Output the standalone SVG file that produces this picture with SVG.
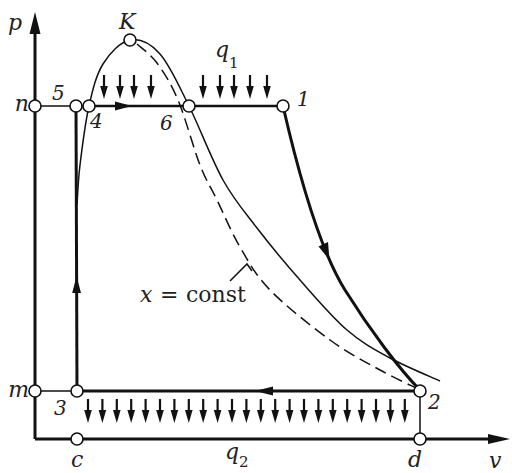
<svg xmlns="http://www.w3.org/2000/svg" xmlns:xlink="http://www.w3.org/1999/xlink" width="512" height="473" viewBox="0 0 512 473">
<style>
.thick{fill:none;stroke:#111;stroke-width:3;stroke-linecap:butt}
.mid{fill:none;stroke:#111;stroke-width:2.4}
.thin{fill:none;stroke:#111;stroke-width:1.5}
.dash{fill:none;stroke:#111;stroke-width:1.5;stroke-dasharray:12 6}
.pt{fill:#fff;stroke:#111;stroke-width:1.6}
.head{fill:#111;stroke:none}
text{font-family:'DejaVu Serif',serif;fill:#222}
.lbl{font-style:italic;font-size:22px}
.num{font-style:italic;font-size:20px}
.sub{font-size:15px}
.rom{font-size:22px}
</style>
<defs>
<g id="da"><line x1="0" y1="0" x2="0" y2="14" stroke="#111" stroke-width="2.2"/><path d="M-3.8,11 L3.8,11 L0,24 Z" fill="#111"/></g>
</defs>
<rect width="512" height="473" fill="#fff"/>

<g id="axes">
<line class="thick" x1="35" y1="439" x2="35" y2="28"/>
<path class="head" d="M35,12 L40.5,34 L29.5,34 Z"/>
<line class="thick" x1="35" y1="439" x2="494" y2="439"/>
<path class="head" d="M510,439 L488,434 L488,444 Z"/>
<text class="lbl" x="8" y="30">p</text>
<text class="lbl" x="489" y="468">v</text>
</g>

<g id="connectors">
<path class="thin" d="M77,205 C77.5,198.3 78,181.5 80,165 C82,148.5 85.2,122.8 89,106 C92.8,89.2 96.2,75 103,64 C109.8,53 120.5,41.7 130,40 C139.5,38.3 150.2,43 160,54 C169.8,65 178.5,85 189,106 C199.5,127 211.7,159.7 223,180 C234.3,200.3 244.2,211.3 257,228 C269.8,244.7 285,263 300,280 C315,297 332,317 347,330 C362,343 374.5,349.5 390,358 C405.5,366.5 431.7,377.2 440,381"/>
<path class="dash" d="M137,44 C140.3,47.2 150.2,53.7 157,63 C163.8,72.3 170.8,83 178,100 C185.2,117 193.5,148.3 200,165 C206.5,181.7 210.3,186.3 217,200 C223.7,213.7 231.2,232 240,247 C248.8,262 255,274.5 270,290 C285,305.5 311.7,326.7 330,340 C348.3,353.3 365.3,361.8 380,370 C394.7,378.2 411.7,385.8 418,389"/>
<polyline class="thin" points="230,281 247,264 252,271" stroke-width="1.2"/>
<line class="thin" x1="35" y1="106" x2="76" y2="106"/>
<line class="thin" x1="35" y1="391" x2="77" y2="391"/>
<line class="thin" x1="420" y1="391" x2="420" y2="439"/>
<line class="thick" x1="77" y1="391" x2="76" y2="106"/>
<path class="head" d="M76.6,276 L81,293 L72.2,293 Z"/>
<line class="mid" x1="76" y1="106" x2="283" y2="106"/>
<path class="head" d="M132,106 L115,101.5 L115,110.5 Z"/>
<path class="thick" d="M283,106 C300,180 320,250 345,290 C370,330 400,370 420,390"/>
<path class="head" d="M329.5,260 L328,242 L318.5,246.5 Z"/>
<line class="thick" x1="420" y1="391" x2="77" y2="391"/>
<path class="head" d="M255,391 L273,386.5 L273,395.5 Z"/>
</g>

<g id="heat-q1">
<use xlink:href="#da" x="104" y="75"/>
<use xlink:href="#da" x="120" y="75"/>
<use xlink:href="#da" x="134" y="75"/>
<use xlink:href="#da" x="151" y="75"/>
<use xlink:href="#da" x="203" y="75"/>
<use xlink:href="#da" x="220" y="75"/>
<use xlink:href="#da" x="234" y="75"/>
<use xlink:href="#da" x="250" y="75"/>
<use xlink:href="#da" x="267" y="75"/>
<text class="lbl" x="215" y="57">q</text>
<text class="sub" x="229" y="68">1</text>
</g>

<g id="heat-q2">
<use xlink:href="#da" x="88" y="399"/>
<use xlink:href="#da" x="102.4" y="399"/>
<use xlink:href="#da" x="116.8" y="399"/>
<use xlink:href="#da" x="131.2" y="399"/>
<use xlink:href="#da" x="145.6" y="399"/>
<use xlink:href="#da" x="160" y="399"/>
<use xlink:href="#da" x="174.4" y="399"/>
<use xlink:href="#da" x="188.8" y="399"/>
<use xlink:href="#da" x="203.2" y="399"/>
<use xlink:href="#da" x="217.6" y="399"/>
<use xlink:href="#da" x="232" y="399"/>
<use xlink:href="#da" x="246.4" y="399"/>
<use xlink:href="#da" x="260.8" y="399"/>
<use xlink:href="#da" x="275.2" y="399"/>
<use xlink:href="#da" x="289.6" y="399"/>
<use xlink:href="#da" x="304" y="399"/>
<use xlink:href="#da" x="318.4" y="399"/>
<use xlink:href="#da" x="332.8" y="399"/>
<use xlink:href="#da" x="347.2" y="399"/>
<use xlink:href="#da" x="361.6" y="399"/>
<use xlink:href="#da" x="376" y="399"/>
<use xlink:href="#da" x="390.4" y="399"/>
<use xlink:href="#da" x="404.8" y="399"/>
<text class="lbl" x="225" y="459">q</text>
<text class="sub" x="239" y="467">2</text>
</g>

<g id="label-xconst">
<text x="140" y="302"><tspan class="lbl">x</tspan><tspan class="rom" x="160">=</tspan><tspan class="rom" x="186">const</tspan></text>
</g>

<g id="node-n"><circle class="pt" cx="35" cy="106" r="6"/><text class="lbl" x="29" y="111" text-anchor="end">n</text></g>
<g id="node-m"><circle class="pt" cx="35" cy="391" r="6"/><text class="lbl" x="29" y="397" text-anchor="end">m</text></g>
<g id="node-K"><circle class="pt" cx="130" cy="40" r="6"/><text class="lbl" x="119" y="29">K</text></g>
<g id="node-5"><circle class="pt" cx="76" cy="106" r="6"/><text class="num" x="52" y="100">5</text></g>
<g id="node-4"><circle class="pt" cx="89" cy="106" r="6"/><text class="num" x="90" y="128">4</text></g>
<g id="node-6"><circle class="pt" cx="189" cy="106" r="6"/><text class="num" x="160" y="130">6</text></g>
<g id="node-1"><circle class="pt" cx="283" cy="106" r="6"/><text class="num" x="297" y="106">1</text></g>
<g id="node-3"><circle class="pt" cx="77" cy="391" r="6"/><text class="num" x="54" y="415">3</text></g>
<g id="node-2"><circle class="pt" cx="420" cy="391" r="6"/><text class="num" x="428" y="409">2</text></g>
<g id="node-c"><circle class="pt" cx="77" cy="439" r="6"/><text class="lbl" x="71" y="467">c</text></g>
<g id="node-d"><circle class="pt" cx="420" cy="439" r="6"/><text class="lbl" x="408" y="467">d</text></g>
</svg>
